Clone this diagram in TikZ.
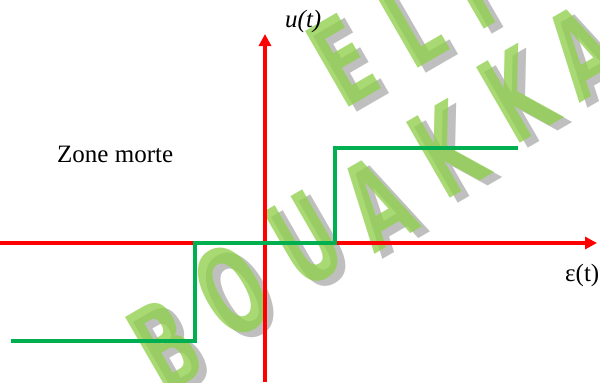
\documentclass[tikz,border=0pt]{standalone}
\usepackage{fontspec}
\setmainfont{Liberation Serif}
\newfontfamily\wmfont{DejaVu Sans}
\usetikzlibrary{arrows.meta}
\definecolor{axred}{RGB}{255,0,0}
\definecolor{curvegreen}{RGB}{0,176,80}
\definecolor{wmgreen}{RGB}{146,208,80}
\definecolor{wmgrey}{RGB}{175,175,175}
\tikzset{
  axis/.style={draw=axred, line width=4pt, -{Triangle[length=12pt,width=12pt]}},
  curve/.style={draw=curvegreen, line width=3.4pt, line join=miter},
  lbl/.style={inner sep=0pt, anchor=base west, font=\fontsize{25}{28}\selectfont},
  wmshadow/.style={inner sep=0pt, text=wmgrey, text opacity=0.8, font=\wmfont\bfseries\fontsize{120}{120}\selectfont, transform shape},
  wmletter/.style={inner sep=0pt, text=wmgreen, text opacity=0.8, font=\wmfont\bfseries\fontsize{120}{120}\selectfont, transform shape}
}
\newcommand{\wmchar}[4]{% name, x, y, letter
  \begin{scope}[shift={(#2+8,#3+5)}, rotate=30, xscale=0.6]
    \node[wmshadow] (#1s) at (0,0) {#4};
  \end{scope}
  \begin{scope}[shift={(#2,#3)}, rotate=30, xscale=0.6]
    \node[wmletter] (#1) at (0,0) {#4};
  \end{scope}
}
\begin{document}
\begin{tikzpicture}[x=1pt,y=-1pt]
\useasboundingbox (0,0) rectangle (600,383);
\clip (0,0) rectangle (600,383);
% watermark
\wmchar{wE}{343}{60}{E}
\wmchar{wL}{410}{22}{L}
\wmchar{wI}{468}{-12}{I}
\wmchar{wB}{165}{345}{B}
\wmchar{wO}{232}{290}{O}
\wmchar{wU}{305}{240}{U}
\wmchar{wA}{377}{203}{A}
\wmchar{wK}{447}{150}{K}
\wmchar{wKK}{517}{95}{K}
\wmchar{wAA}{582}{52}{A}
% axes
\coordinate (xs) at (0,243);
\coordinate (xe) at (597,243);
\coordinate (ys) at (265,382);
\coordinate (ye) at (265,34);
\draw[axis] (xs) -- (xe);
\draw[axis] (ys) -- (ye);
% curve
\coordinate (c1) at (11,341);
\coordinate (c2) at (195,341);
\coordinate (c3) at (195,243);
\coordinate (c4) at (335,243);
\coordinate (c5) at (335,148);
\coordinate (c6) at (518,148);
\draw[curve] (c1) -- (c2) -- (c3) -- (c4) -- (c5) -- (c6);
% labels
\node[lbl] (ut) at (285,27) {\itshape u(t)};
\node[lbl] (et) at (565,281) {ε(t)};
\node[lbl] (zm) at (57,162) {Zone morte};
\end{tikzpicture}
\end{document}
